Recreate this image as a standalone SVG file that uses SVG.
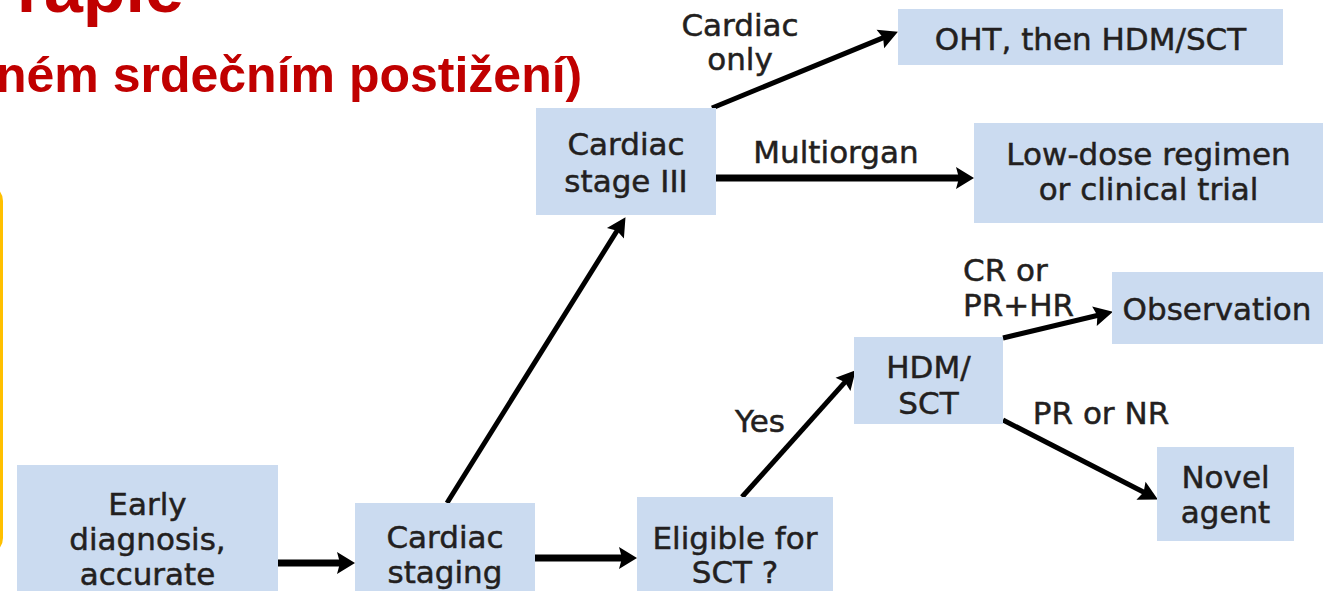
<svg xmlns="http://www.w3.org/2000/svg" width="1325" height="591" viewBox="0 0 1325 591">
<style>
.box{fill:#CBDBF0}
.t{font-family:"DejaVu Sans",Arial,sans-serif;font-size:31px;fill:#231F20;stroke:#231F20;stroke-width:0.5;text-anchor:middle}
.l{font-family:"DejaVu Sans",Arial,sans-serif;font-size:31px;fill:#231F20;stroke:#231F20;stroke-width:0.5}
.title{font-family:"Liberation Sans",Arial,sans-serif;font-weight:bold;fill:#C00000}
.thick{stroke:#000;stroke-width:7;fill:none}
.thin{stroke:#000;stroke-width:5;fill:none}
</style>
<defs>
<marker id="ah" markerUnits="userSpaceOnUse" markerWidth="20" markerHeight="24" refX="6" refY="11" orient="auto" overflow="visible">
<path d="M0,0 L18,11 L0,22 L3,11 z" fill="#000"/>
</marker>
<marker id="ahs" markerUnits="userSpaceOnUse" markerWidth="20" markerHeight="22" refX="6" refY="10" orient="auto" overflow="visible">
<path d="M0,0 L19,10 L0,20 L3,10 z" fill="#000"/>
</marker>
</defs>
<g id="title">
<text class="title" x="184" y="12" font-size="70" text-anchor="end">rapie</text>
<text class="title" x="-4" y="92" font-size="50">ném srdečním postižení)</text>
</g>
<g id="yellow-frame">
<rect x="-40" y="186" width="41.5" height="367" rx="15" fill="none" stroke="#FFC000" stroke-width="3"/>
</g>
<g id="connectors">
<line class="thick" x1="278" y1="563" x2="343" y2="563" marker-end="url(#ah)"/>
<line class="thick" x1="535" y1="558" x2="625" y2="558" marker-end="url(#ah)"/>
<line class="thick" x1="716" y1="178" x2="962" y2="178" marker-end="url(#ah)"/>
<line class="thin" x1="447" y1="503" x2="618.6" y2="228.2" marker-end="url(#ahs)"/>
<line class="thin" x1="742" y1="497" x2="847" y2="379.9" marker-end="url(#ahs)"/>
<line class="thin" x1="712" y1="108" x2="885.9" y2="36.6" marker-end="url(#ahs)"/>
<line class="thin" x1="1003" y1="338" x2="1100.3" y2="314.8" marker-end="url(#ahs)"/>
<line class="thin" x1="1003" y1="420" x2="1146.3" y2="493.5" marker-end="url(#ahs)"/>
</g>
<g id="labels">
<text class="t" x="740" y="36">Cardiac</text>
<text class="t" x="740" y="70">only</text>
<text class="t" x="836" y="163">Multiorgan</text>
<text class="l" x="963" y="281">CR or</text>
<text class="l" x="963" y="316">PR+HR</text>
<text class="t" x="760" y="432">Yes</text>
<text class="t" x="1101" y="424">PR or NR</text>
</g>
<g id="early">
<rect class="box" x="17" y="465" width="261" height="140"/>
<text class="t" x="147.5" y="515">Early</text>
<text class="t" x="147.5" y="550">diagnosis,</text>
<text class="t" x="147.5" y="585">accurate</text>
</g>
<g id="staging">
<rect class="box" x="355" y="503" width="180" height="100"/>
<text class="t" x="445" y="548">Cardiac</text>
<text class="t" x="445" y="583">staging</text>
</g>
<g id="eligible">
<rect class="box" x="637" y="497" width="196" height="106"/>
<text class="t" x="735" y="549">Eligible for</text>
<text class="t" x="735" y="583">SCT ?</text>
</g>
<g id="stage3">
<rect class="box" x="536" y="108" width="180" height="107"/>
<text class="t" x="626" y="155">Cardiac</text>
<text class="t" x="626" y="192">stage III</text>
</g>
<g id="oht">
<rect class="box" x="898" y="9" width="385" height="56"/>
<text class="t" x="1090.5" y="50">OHT, then HDM/SCT</text>
</g>
<g id="lowdose">
<rect class="box" x="974" y="123" width="349" height="100"/>
<text class="t" x="1148.5" y="165">Low-dose regimen</text>
<text class="t" x="1148.5" y="200">or clinical trial</text>
</g>
<g id="hdm">
<rect class="box" x="854" y="337" width="149" height="87"/>
<text class="t" x="928.5" y="378">HDM/</text>
<text class="t" x="928.5" y="414">SCT</text>
</g>
<g id="observation">
<rect class="box" x="1112" y="272" width="211" height="72"/>
<text class="t" x="1217" y="320">Observation</text>
</g>
<g id="novel">
<rect class="box" x="1157" y="447" width="137" height="94"/>
<text class="t" x="1225.5" y="488">Novel</text>
<text class="t" x="1225.5" y="523">agent</text>
</g>
</svg>
